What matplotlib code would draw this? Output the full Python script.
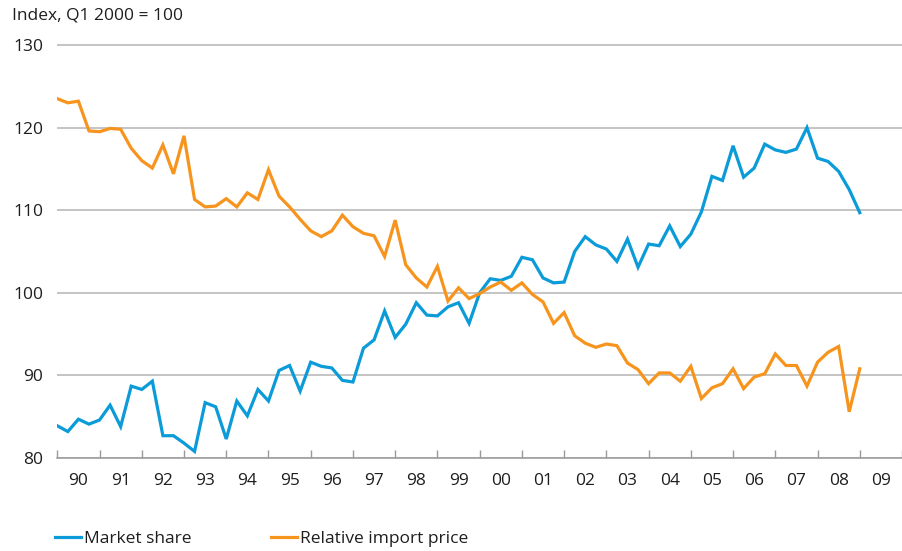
import matplotlib
matplotlib.use("Agg")
import matplotlib.pyplot as plt
import numpy as np

plt.rcParams["font.family"] = ["Open Sans", "DejaVu Sans"]

# quarterly observations, Q1 1990 .. Q1 2009
quarters = np.arange(77) / 4.0 + 1990

market_share = [
    83.9, 83.2, 84.7, 84.1, 84.6, 86.4, 83.8, 88.7, 88.3, 89.3,
    82.7, 82.7, 81.8, 80.8, 86.7, 86.2, 82.3, 86.9, 85.1, 88.3,
    86.9, 90.6, 91.2, 88.1, 91.6, 91.1, 90.9, 89.4, 89.2, 93.3,
    94.3, 97.8, 94.6, 96.2, 98.8, 97.3, 97.2, 98.3, 98.8, 96.3,
    100.0, 101.7, 101.5, 102.0, 104.3, 104.0, 101.8, 101.2, 101.3, 105.0,
    106.8, 105.8, 105.3, 103.8, 106.5, 103.1, 105.9, 105.7, 108.1, 105.6,
    107.1, 109.8, 114.1, 113.6, 117.8, 114.0, 115.1, 118.0, 117.3, 117.0,
    117.4, 120.0, 116.3, 115.9, 114.7, 112.5, 109.7,
]

import_price = [
    123.5, 123.0, 123.2, 119.6, 119.5, 119.9, 119.8, 117.5, 116.0, 115.1,
    117.9, 114.4, 119.0, 111.3, 110.4, 110.5, 111.4, 110.4, 112.1, 111.3,
    114.9, 111.7, 110.4, 108.9, 107.5, 106.8, 107.5, 109.4, 108.0, 107.2,
    106.9, 104.4, 108.8, 103.4, 101.8, 100.7, 103.2, 99.0, 100.6, 99.3,
    99.9, 100.7, 101.3, 100.3, 101.2, 99.8, 98.9, 96.3, 97.6, 94.8,
    93.9, 93.4, 93.8, 93.6, 91.5, 90.7, 89.0, 90.3, 90.3, 89.3,
    91.1, 87.2, 88.5, 89.0, 90.8, 88.4, 89.8, 90.2, 92.6, 91.2,
    91.2, 88.7, 91.6, 92.8, 93.5, 85.6, 90.8,
]

years = np.arange(1990, 2011)
year_labels = ["%02d" % (y % 100) for y in years[:-1]]

blue = "#0a9bd8"
orange = "#f7941d"
grid_col = "#b4b4b4"
text_col = "#1e1e1e"
fs = 12.5

fig = plt.figure(figsize=(9.02, 5.51), dpi=100)
px_year = 42.34
x0 = 57.3
y80, y130 = 458, 45
ytop = 130.4
px_unit = (y80 - y130) / 50.0
top_px = y130 - (ytop - 130) * px_unit
ax = fig.add_axes([x0 / 902, 1 - y80 / 551, (902 - x0) / 902, (y80 - top_px) / 551])

ax.plot(quarters, market_share, color=blue, lw=2.3, label="Market share",
        solid_joinstyle="miter", zorder=3)
ax.plot(quarters, import_price, color=orange, lw=2.3, label="Relative import price",
        solid_joinstyle="miter", zorder=3)

ax.set_xlim(1990, 1990 + (902 - x0) / px_year)
ax.set_ylim(80, ytop)

ax.set_yticks([80, 90, 100, 110, 120, 130])
ax.yaxis.grid(True, color=grid_col, lw=1.1)
ax.tick_params(axis="y", length=0, pad=10, labelsize=fs, labelcolor=text_col)

ax.set_xticks(years)
ax.set_xticklabels([])
ax.set_xticks(years[:-1] + 0.5, minor=True)
ax.set_xticklabels(year_labels, minor=True)
ax.tick_params(axis="x", which="major", direction="in", length=5.5, color="#999999", width=1)
ax.tick_params(axis="x", which="minor", length=0, pad=11, labelsize=fs, labelcolor=text_col)

for side in ["top", "right", "left"]:
    ax.spines[side].set_visible(False)
ax.spines["bottom"].set_color("#999999")
ax.spines["bottom"].set_linewidth(1.1)
ax.set_axisbelow(True)

fig.text(12 / 902, 1 - 15 / 551, "Index, Q1 2000 = 100", fontsize=fs,
         color=text_col, va="center", ha="left")

fig.legend(loc="center left", bbox_to_anchor=(55 / 902, 1 - 539 / 551), ncol=2,
           frameon=False, fontsize=fs, handlelength=1.5, handletextpad=0.17,
           columnspacing=4.6, labelcolor=text_col, borderaxespad=0, borderpad=0)

fig.savefig("out.png", dpi=100)
